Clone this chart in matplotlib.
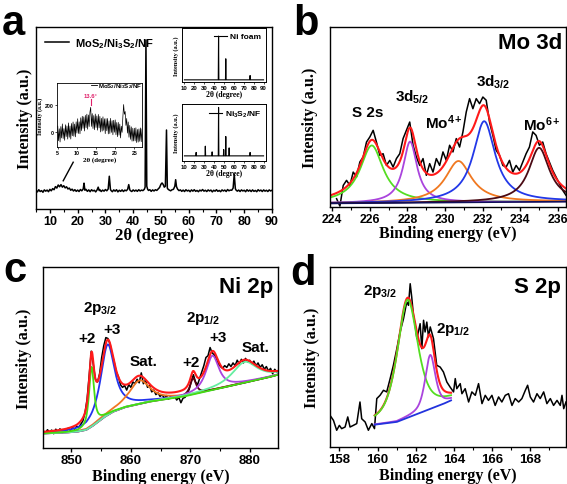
import numpy as np
import matplotlib
matplotlib.use('Agg')
import matplotlib.pyplot as plt

plt.rcParams['font.family'] = ['Liberation Sans', 'DejaVu Sans']
plt.rcParams['font.weight'] = 'bold'
plt.rcParams['mathtext.fontset'] = 'custom'
plt.rcParams['mathtext.rm'] = 'Liberation Sans:bold'
plt.rcParams['mathtext.bf'] = 'Liberation Sans:bold'
plt.rcParams['mathtext.it'] = 'Liberation Sans:bold:italic'
plt.rcParams['axes.linewidth'] = 1.0

# ---------------- data ----------------
# (a) XRD of MoS2/Ni3S2/NF, 2theta in degree, intensity in % of axis height
xrd_x = [5.0, 5.5, 6.0, 6.5, 7.0, 7.5, 8.0, 8.5, 9.0, 9.5, 10.0, 10.5, 11.0, 11.5, 12.0, 12.5,
         13.0, 13.5, 14.0, 14.5, 15.0, 15.5, 16.0, 16.5, 17.0, 17.5, 18.0, 18.5, 19.0, 19.5,
         20.0, 20.5, 21.0, 21.5, 22.0, 22.3, 22.6, 23.0, 23.5, 24.0, 24.5, 25.0, 25.5, 26.0,
         26.5, 27.0, 27.4, 27.8, 28.0, 28.5, 29.0, 29.5, 30.0, 30.5, 31.0, 31.4, 31.8, 32.0,
         32.5, 33.0, 33.5, 34.0, 34.5, 35.0, 35.5, 36.0, 36.5, 37.0, 37.5, 38.0, 38.4, 38.8,
         39.0, 39.5, 40.0, 40.5, 41.0, 41.5, 42.0, 42.5, 43.0, 43.5, 44.0, 44.3, 44.6, 44.9,
         45.2, 45.5, 46.0, 46.5, 47.0, 47.5, 48.0, 48.5, 49.0, 49.5, 50.0, 50.4, 50.8, 51.2,
         51.6, 52.0, 52.3, 52.6, 53.0, 53.5, 54.0, 54.5, 55.0, 55.3, 55.6, 56.0, 56.5, 57.0,
         57.5, 58.0, 58.5, 59.0, 59.5, 60.0, 60.5, 61.0, 61.5, 62.0, 62.5, 63.0, 63.5, 64.0,
         64.5, 65.0, 65.5, 66.0, 66.5, 67.0, 67.5, 68.0, 68.5, 69.0, 69.5, 70.0, 70.5, 71.0,
         71.5, 72.0, 72.5, 73.0, 73.5, 74.0, 74.5, 75.0, 75.5, 76.0, 76.4, 76.8, 77.0, 77.5,
         78.0, 78.5, 79.0, 79.5, 80.0, 80.5, 81.0, 81.5, 82.0, 82.5, 83.0, 83.5, 84.0, 84.5,
         85.0, 85.5, 86.0, 86.5, 87.0, 87.5, 88.0, 88.5, 89.0, 89.5, 90.0]
xrd_y = [10.3, 9.4, 10.6, 9.6, 10.1, 9.2, 10.5, 9.8, 10.4, 9.5, 10.8, 10.0, 11.2, 10.6, 12.3, 11.5,
         13.2, 12.2, 13.4, 12.0, 12.8, 11.6, 12.2, 11.0, 11.5, 10.3, 10.9, 9.9, 10.6, 9.7,
         10.4, 9.6, 10.7, 10.0, 11.0, 14.2, 10.3, 10.8, 9.7, 10.5, 9.5, 10.6, 9.9, 10.3,
         9.4, 10.5, 12.0, 10.1, 10.6, 9.6, 10.4, 9.8, 10.7, 10.0, 11.0, 18.0, 10.9, 10.2,
         9.5, 10.5, 9.8, 10.6, 9.4, 10.3, 9.7, 10.5, 9.6, 10.4, 10.0, 10.8, 13.4, 10.5,
         10.1, 9.6, 10.5, 9.8, 10.4, 9.7, 10.6, 9.9, 10.4, 10.1, 10.8, 12.0, 92.9, 12.5,
         10.9, 10.2, 10.6, 9.7, 10.5, 9.9, 10.6, 10.2, 11.0, 11.8, 13.6, 14.3, 13.5, 12.0,
         12.5, 43.4, 11.5, 10.8, 10.4, 10.0, 10.6, 10.8, 12.5, 16.1, 12.3, 10.9, 10.1, 10.5,
         9.7, 10.4, 9.6, 10.6, 9.9, 10.3, 9.5, 10.5, 9.8, 10.6, 9.7, 10.2, 9.5, 10.4,
         9.9, 10.7, 9.8, 10.3, 9.6, 10.5, 9.9, 10.4, 9.4, 10.3, 9.8, 10.6, 9.7, 10.2,
         9.5, 10.5, 9.9, 10.4, 9.6, 10.7, 10.0, 10.4, 10.3, 11.5, 19.2, 11.2, 10.5, 9.8,
         10.4, 9.6, 10.5, 9.9, 10.3, 9.5, 10.6, 9.8, 10.4, 9.6, 10.5, 9.7, 10.2, 9.5,
         10.6, 9.9, 10.4, 9.6, 10.5, 9.8, 10.3, 9.6, 10.5, 9.9, 10.3]

# (a) low-angle inset, 2theta 5-27 in 0.2 degree steps
low_x = np.round(np.arange(5.0, 27.01, 0.2), 1)
low_y = [45, -60, 26, -69, 42, -40, 61, -44, 27, -57, 55, -30, 46, -48, 68, -35, 46, -48, 64, -24,
         75, -28, 60, -32, 76, -5, 98, -8, 76, -10, 105, 13, 116, 29, 112, 10, 122, 34, 131, 23,
         125, 42, 145, 180, 43, 135, 28, 121, 19, 132, 35, 118, 16, 129, 32, 115, 3, 101, 9, 112,
         15, 98, -9, 99, 12, 100, -11, 83, -8, 101, 0, 84, -17, 87, 1, 90, -17, 71, -31, 72,
         -20, 60, -40, 45, 0, 110, 200, 130, 150, 50, 100, -5, 75, -35, 50, -50, 40, -63, 30, -62,
         30, -61, 33, -73, 21, -70, 25, -64, 32, -67, 25]

# (a) Ni foam and Ni3S2/NF insets
nif_x = [10, 44.2, 44.5, 44.8, 51.5, 51.8, 52.1, 76.1, 76.4, 76.7, 90]
nif_y = [4, 4, 85, 4, 4, 43, 4, 4, 12, 4, 4]
nis_x = [10, 21.5, 21.8, 22.1, 30.8, 31.1, 31.4, 37.7, 38.0, 38.3, 44.2, 44.5, 44.8, 49.4, 49.7,
         50.0, 51.5, 51.8, 52.1, 54.9, 55.2, 55.5, 76.1, 76.4, 76.7, 90]
nis_y = [9, 9, 15, 9, 9, 26, 9, 9, 16, 9, 9, 94, 9, 9, 20, 9, 9, 43, 9, 9, 23, 9, 9, 15, 9, 9]

# (b) Mo 3d
mo_counts = [4.6, 0.5, 12.0, 14.8, 12.0, 19.4, 16.7, 25.0, 27.8, 36.1, 38.9, 42.6, 36.0, 28.7,
             29.6, 23.1, 25.9, 22.2, 26.9, 29.6, 38.0, 42.6, 47.2, 34.3, 27.8, 23.1, 26.9, 17.6,
             24.1, 19.4, 26.9, 23.1, 30.6, 25.9, 34.3, 30.6, 38.0, 33.3, 41.7, 52.8, 60.2, 54.6,
             60.2, 57.4, 61.1, 59.3, 47.2, 39.8, 31.5, 28.7, 23.1, 22.2, 25.9, 19.4, 23.1, 20.4,
             25.0, 29.6, 33.3, 41.7, 39.8, 34.3, 36.1, 29.6, 25.0, 20.4, 16.7, 13.0, 9.3, 6.5]
mo_energy = np.linspace(224.23, 236.43, len(mo_counts))
mo_centers = [226.1, 228.14, 230.71, 232.08, 235.0]
mo_heights = [32, 34, 23, 45, 30]
mo_fwhm = [1.5, 0.9, 1.7, 1.42, 1.33]
mo_colors = ['#55dd22', '#aa44dd', '#f07820', '#2238e8', '#4a0a14']
mo_bg_x = [223.8, 236.5]
mo_bg_y = [2.0, 3.0]

# (c) Ni 2p
ni_counts = [9.5, 8.2, 10.1, 8.8, 9.9, 7.9, 10.4, 9.0, 10.6, 8.5, 10.2, 9.3, 11.0, 9.6, 11.3,
             10.4, 12.0, 11.5, 13.2, 15.0, 19.5, 27.0, 40.0, 53.5, 46.0, 38.0, 36.5, 41.0, 50.0,
             56.5, 61.0, 60.5, 57.5, 52.0, 47.5, 42.0, 39.5, 35.0, 33.5, 34.5, 32.0, 35.0, 33.5,
             36.5, 35.5, 38.0, 36.0, 41.5, 35.5, 37.5, 33.5, 34.5, 31.0, 32.0, 29.5, 30.5, 28.5,
             29.5, 27.5, 29.0, 27.0, 28.5, 27.5, 28.5, 26.5, 28.0, 25.0, 27.5, 28.0, 30.0, 32.5,
             37.0, 40.5, 36.5, 35.0, 38.5, 42.0, 45.5, 50.0, 51.0, 55.5, 52.5, 51.5, 49.0, 46.5,
             45.0, 44.0, 45.5, 44.5, 46.5, 45.0, 47.0, 45.5, 48.5, 46.5, 49.0, 47.0, 49.5, 47.5,
             48.5, 46.5, 48.0, 45.5, 47.0, 44.5, 46.0, 43.5, 45.0, 42.5, 44.0, 41.0, 43.5, 42.0]
ni_energy = np.linspace(845.3, 884.5, len(ni_counts))
ni_centers = [853.4, 856.1, 861.45, 870.45, 873.7, 879.1]
ni_heights = [33, 39, 13, 9, 19, 11.5]
ni_fwhm = [1.0, 2.8, 4.2, 1.2, 2.6, 5.0]
ni_colors = ['#44dd11', '#2233ee', '#f07722', '#550011', '#aa44dd', '#66eea0']
ni_bg_x = [845.25, 849, 851, 852.5, 853.5, 854.5, 855.5, 857, 859, 861, 863, 865, 867, 869,
           871, 873, 875, 877, 879, 881, 883, 884.7]
ni_bg_y = [8, 8.5, 9, 10, 12, 14.5, 17, 20, 22.5, 24, 25.5, 26.5, 27.5, 28.5, 30, 31.5, 33,
           34.5, 36, 37.5, 39, 40.5]

# (d) S 2p
s_energy = [157.51, 157.69, 157.86, 158.00, 158.12, 158.30, 158.44, 158.56, 158.73, 158.91,
            159.08, 159.17, 159.35, 159.52, 159.70, 159.84, 159.96, 160.13, 160.31, 160.48,
            160.66, 160.83, 161.01, 161.18, 161.36, 161.53, 161.62, 161.71, 161.79, 161.88,
            161.97, 162.06, 162.23, 162.32, 162.41, 162.49, 162.58, 162.67, 162.76, 162.93,
            163.10, 163.28, 163.45, 163.63, 163.80, 163.98, 164.07, 164.15, 164.33, 164.42,
            164.59, 164.77, 164.94, 165.12, 165.29, 165.47, 165.64, 165.81, 165.99, 166.16,
            166.34, 166.51, 166.69, 166.86, 167.04, 167.21, 167.39, 167.56, 167.74, 167.86,
            168.00, 168.17, 168.35, 168.52, 168.70, 168.87, 169.05, 169.22, 169.40, 169.57,
            169.66, 169.75, 169.87]
s_counts = [17.6, 14.8, 9.3, 12.0, 10.2, 11.1, 16.7, 11.1, 12.0, 13.0,
            25.0, 15.7, 13.9, 9.3, 13.0, 10.2, 26.9, 28.7, 31.5, 30.6,
            38.0, 45.4, 54.6, 63.9, 71.3, 80.6, 78.7, 90.7, 83.3, 73.1,
            67.6, 60.2, 68.5, 54.6, 70.4, 63.9, 69.4, 61.1, 66.7, 60.2,
            45.4, 44.4, 41.7, 36.1, 33.3, 30.6, 38.0, 32.4, 35.2, 29.6,
            32.4, 25.0, 30.6, 28.7, 35.2, 24.1, 28.7, 25.9, 28.7, 23.1,
            27.8, 25.0, 28.7, 29.6, 23.1, 26.9, 25.0, 26.9, 31.5, 34.3,
            27.8, 25.0, 29.6, 26.9, 30.6, 24.1, 26.9, 23.1, 25.9, 23.1,
            28.7, 21.3, 25.0]
s_centers = [161.57, 162.76]
s_heights = [65.5, 30]
s_fwhm = [1.28, 0.63]
s_colors = ['#55dd22', '#aa44dd']
s_bg_x = [159.85, 161.0, 161.9, 162.8, 163.45, 163.85]
s_bg_y = [12.4, 13.9, 17.6, 21.3, 24.0, 25.9]


def peak(x, c, h, w, eta):
    # pseudo-Voigt line shape used by the fitting program
    lor = 1.0 / (1.0 + ((x - c) / (w / 2.0)) ** 2)
    gau = np.exp(-4 * np.log(2) * ((x - c) / w) ** 2)
    return h * (eta * lor + (1 - eta) * gau)


W, H = 567, 485
fig = plt.figure(figsize=(W / 100, H / 100), dpi=100)
serif = dict(fontfamily='Liberation Serif', fontweight='bold')


def box(x0, y0, x1, y1):
    return [x0 / W, 1 - y1 / H, (x1 - x0) / W, (y1 - y0) / H]


def style(ax, size=9):
    ax.set_yticks([])
    ax.tick_params(axis='x', labelsize=size, length=3, width=1, pad=1.5)
    ax.tick_params(axis='x', which='minor', length=2, width=0.8)


# ---------------- (a) ----------------
ax = fig.add_axes(box(36, 28, 272, 210))
ax.plot(xrd_x, xrd_y, color='k', lw=1.1, label=r'MoS$_2$/Ni$_3$S$_2$/NF')
ax.plot([14.8, 18.4], [15.5, 25.7], color='k', lw=1)
ax.set_xlim(5, 90)
ax.set_ylim(0, 100)
ax.set_xticks(range(10, 91, 10))
ax.set_xticks(range(5, 91, 5), minor=True)
style(ax)
ax.set_xlabel('2θ (degree)', fontsize=12, labelpad=0, **serif)
ax.set_ylabel('Intensity (a.u.)', fontsize=11.5, labelpad=2, **serif)
ax.legend(loc='upper left', frameon=False, prop={'size': 8, 'weight': 'bold'},
          handlelength=2.2, borderaxespad=0.4, handletextpad=0.5)

ins = fig.add_axes(box(57, 84, 142, 148))
ins.plot(low_x, low_y, color='k', lw=0.5)
ins.plot([0.40, 0.47], [0.965, 0.965], color='k', lw=0.6, transform=ins.transAxes)
ins.text(0.485, 0.965, r'MoS$_2$/Ni$_3$S$_2$/NF', transform=ins.transAxes, fontsize=4.4,
         ha='left', va='center')
ins.plot([13.65, 13.65], [198, 240], color='#e0206a', lw=0.8)
ins.text(13.65, 262, '13.6°', color='#e0206a', fontsize=4.2, ha='center', va='center')
ins.set_xlim(4.8, 27)
ins.set_ylim(-105, 355)
ins.set_xticks([5, 10, 15, 20, 25])
ins.set_yticks([0, 200])
ins.tick_params(labelsize=3.8, length=1.5, width=0.5, pad=1)
for s in ins.spines.values():
    s.set_linewidth(0.6)
ins.set_xlabel('2θ (degree)', fontsize=5, labelpad=0.5, **serif)
ins.set_ylabel('Intensity (a.u.)', fontsize=4.3, labelpad=1, **serif)

for rect, xs, ys, name in [((182, 29, 266, 83), nif_x, nif_y, 'Ni foam'),
                           ((182, 105, 266, 162), nis_x, nis_y, r'Ni$_3$S$_2$/NF')]:
    a2 = fig.add_axes(box(*rect))
    a2.plot(xs, ys, color='k', lw=0.8, label=name)
    a2.set_xlim(7.5, 92.5)
    a2.set_ylim(0, 100)
    a2.set_xticks(range(10, 91, 10))
    a2.set_yticks([])
    a2.tick_params(labelsize=4.3, length=1.5, width=0.5, pad=1)
    for s in a2.spines.values():
        s.set_linewidth(0.7)
    a2.set_xlabel('2θ (degree)', fontsize=5.5, labelpad=0, **serif)
    a2.set_ylabel('Intensity (a.u.)', fontsize=4.5, labelpad=2, **serif)
    a2.legend(loc='upper right', frameon=False, prop={'size': 6, 'weight': 'bold'},
              handlelength=1.6, borderaxespad=0.15, handletextpad=0.4)

# ---------------- (b) ----------------
ax = fig.add_axes(box(330, 28, 566, 208))
xf = np.linspace(223.8, 236.5, 800)
bg = np.interp(xf, mo_bg_x, mo_bg_y)
ax.plot(mo_energy, mo_counts, color='k', lw=1.1)
total = bg.copy()
for c, h, w, col in zip(mo_centers, mo_heights, mo_fwhm, mo_colors):
    comp = peak(xf, c, h, w, 1.0)
    total += comp
    ax.plot(xf, bg + comp, color=col, lw=1.3)
ax.plot(xf, bg, color='#10105a', lw=1.2)
ax.plot(xf, total, color='#ff1a1a', lw=1.5)
ax.set_xlim(223.88, 236.43)
ax.set_ylim(0, 100)
ax.set_xticks(range(224, 237, 2))
ax.set_xticks(range(224, 237, 1), minor=True)
style(ax, 8.8)
ax.set_xlabel('Binding energy (eV)', fontsize=11.5, labelpad=0, **serif)
ax.set_ylabel('Intensity (a.u.)', fontsize=11.5, labelpad=9, **serif)
ax.text(0.985, 0.915, 'Mo 3d', transform=ax.transAxes, ha='right', va='center', fontsize=16)
for txt, x, y in [('S 2s', 225.9, 52.8), ('3d$_{5/2}$', 228.25, 61.7),
                  ('Mo$^{4+}$', 229.95, 47.5), ('3d$_{3/2}$', 232.56, 70.0),
                  ('Mo$^{6+}$', 235.17, 46.5)]:
    ax.text(x, y, txt, ha='center', va='center', fontsize=11)

# ---------------- (c) ----------------
ax = fig.add_axes(box(43, 268, 278, 449))
xf = np.linspace(845.25, 884.7, 800)
bg = np.interp(xf, ni_bg_x, ni_bg_y)
ax.plot(ni_energy, ni_counts, color='k', lw=1.1)
total = bg.copy()
comps = []
for c, h, w, col in zip(ni_centers, ni_heights, ni_fwhm, ni_colors):
    comp = peak(xf, c, h, w, 0.85)
    total += comp
    comps.append((comp, col))
for i in [1, 2, 3, 4, 5, 0]:
    comp, col = comps[i]
    ax.plot(xf, bg + comp, color=col, lw=1.3)
ax.plot(xf, total, color='#ff1a1a', lw=1.5)
ax.set_xlim(845.25, 884.7)
ax.set_ylim(0, 100)
ax.set_xticks([850, 860, 870, 880])
ax.set_xticks(range(850, 885, 5), minor=True)
style(ax, 9.5)
ax.set_xlabel('Binding energy (eV)', fontsize=11.5, labelpad=1, **serif)
ax.set_ylabel('Intensity (a.u.)', fontsize=11.5, labelpad=8, **serif)
ax.text(0.98, 0.89, 'Ni 2p', transform=ax.transAxes, ha='right', va='center', fontsize=16)
for txt, x, y in [('2p$_{3/2}$', 854.86, 77.5), ('+2', 852.7, 61.0), ('+3', 856.9, 65.9),
                  ('Sat.', 862.2, 48.2), ('2p$_{1/2}$', 872.1, 72.0), ('+2', 870.1, 47.7),
                  ('+3', 874.6, 61.5), ('Sat.', 881.0, 56.0)]:
    ax.text(x, y, txt, ha='center', va='center', fontsize=11)

# ---------------- (d) ----------------
ax = fig.add_axes(box(330, 268, 566, 448))
xf = np.linspace(s_bg_x[0], s_bg_x[-1], 300)
bg = np.interp(xf, s_bg_x, s_bg_y)
ax.plot(s_energy, s_counts, color='k', lw=1.1)
total = bg.copy()
comps = []
for c, h, w, col in zip(s_centers, s_heights, s_fwhm, s_colors):
    comp = peak(xf, c, h, w, 0.6)
    total += comp
    comps.append((comp, col))
ax.plot(xf, total, color='#ff1a1a', lw=1.5)
for comp, col in comps:
    ax.plot(xf, bg + comp, color=col, lw=1.3)
ax.plot(xf, bg, color='#2233dd', lw=1.3)
ax.set_xlim(157.51, 169.87)
ax.set_ylim(0, 100)
ax.set_xticks(range(158, 169, 2))
ax.set_xticks(range(158, 170, 1), minor=True)
style(ax, 9.5)
ax.set_xlabel('Binding energy (eV)', fontsize=11.5, labelpad=1, **serif)
ax.set_ylabel('Intensity (a.u.)', fontsize=11.5, labelpad=7, **serif)
ax.text(0.98, 0.89, 'S 2p', transform=ax.transAxes, ha='right', va='center', fontsize=16)
ax.text(160.13, 86.7, '2p$_{3/2}$', ha='center', va='center', fontsize=11)
ax.text(163.98, 65.6, '2p$_{1/2}$', ha='center', va='center', fontsize=11)

# panel letters
for letter, x, y in [('a', 2, 35), ('b', 293, 35), ('c', 3, 282), ('d', 290, 285)]:
    fig.text(x / W, 1 - y / H, letter, fontsize=30, fontweight='bold', va='baseline')

fig.savefig('out.png', dpi=100)
